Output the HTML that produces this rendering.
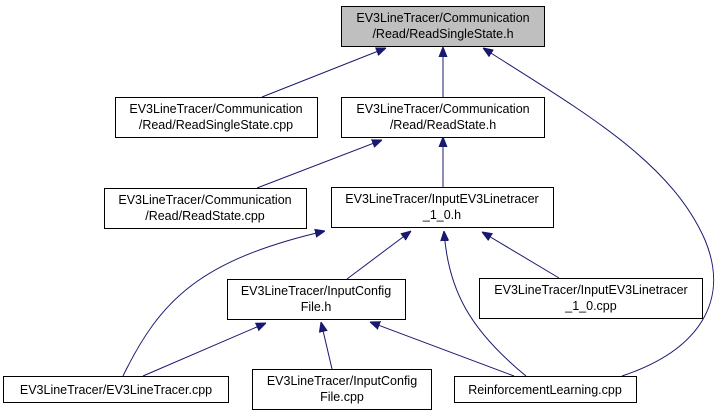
<!DOCTYPE html>
<html><head><meta charset="utf-8"><style>
html,body{margin:0;padding:0;background:#fff;}
svg{display:block;}
text{font-family:"Liberation Sans",Arial,sans-serif;font-size:12.5px;fill:#000;text-anchor:middle;}
rect{stroke:#000;stroke-width:1;}
path.e{fill:none;stroke:#191970;stroke-width:1;}
</style></head><body>
<svg width="725" height="416" viewBox="0 0 725 416" xmlns="http://www.w3.org/2000/svg">
<defs><marker id="a" viewBox="0 0 10 10" refX="10" refY="5" markerWidth="10" markerHeight="10" markerUnits="userSpaceOnUse" orient="auto"><path d="M0,1 L10,5 L0,9 z" fill="#191970" stroke="#191970"/></marker></defs>

<path class="e" d="M262,97 L386,48" marker-end="url(#a)"/>
<path class="e" d="M443,97 L443,47" marker-end="url(#a)"/>
<path class="e" d="M622,376 C700,350 730,300 705,240 C670,160 580,110 483,48" marker-end="url(#a)"/>
<path class="e" d="M257,188 L382,140" marker-end="url(#a)"/>
<path class="e" d="M443,188 L443,137" marker-end="url(#a)"/>
<path class="e" d="M123,376 C160,300 200,260 325,231" marker-end="url(#a)"/>
<path class="e" d="M347,279 L411,231" marker-end="url(#a)"/>
<path class="e" d="M526,376 C470,330 448,290 444,231" marker-end="url(#a)"/>
<path class="e" d="M559,278 L482,232" marker-end="url(#a)"/>
<path class="e" d="M143,376 L266,323" marker-end="url(#a)"/>
<path class="e" d="M332,369 L321,322" marker-end="url(#a)"/>
<path class="e" d="M514,376 L370,322" marker-end="url(#a)"/>

<rect x="341.5" y="6.5" width="203" height="40" fill="#bfbfbf"/>
<text x="443" y="22">EV3LineTracer/Communication</text><text x="443" y="38">/Read/ReadSingleState.h</text>

<rect x="115.5" y="97.5" width="202" height="40" fill="#fff"/>
<text x="216" y="113">EV3LineTracer/Communication</text><text x="216" y="129">/Read/ReadSingleState.cpp</text>

<rect x="341.5" y="97.5" width="203" height="40" fill="#fff"/>
<text x="443" y="113">EV3LineTracer/Communication</text><text x="443" y="129">/Read/ReadState.h</text>

<rect x="104.5" y="188.5" width="202" height="40" fill="#fff"/>
<text x="205" y="204">EV3LineTracer/Communication</text><text x="205" y="220">/Read/ReadState.cpp</text>

<rect x="331.5" y="187.5" width="222" height="40" fill="#fff"/>
<text x="442" y="203">EV3LineTracer/InputEV3Linetracer</text><text x="442" y="219">_1_0.h</text>

<rect x="227.5" y="279.5" width="178" height="40" fill="#fff"/>
<text x="316" y="295">EV3LineTracer/InputConfig</text><text x="316" y="311">File.h</text>

<rect x="479.5" y="278.5" width="223" height="40" fill="#fff"/>
<text x="591" y="294">EV3LineTracer/InputEV3Linetracer</text><text x="591" y="310">_1_0.cpp</text>

<rect x="3.5" y="376.5" width="225" height="26" fill="#fff"/>
<text x="116" y="394">EV3LineTracer/EV3LineTracer.cpp</text>

<rect x="252.5" y="369.5" width="179" height="40" fill="#fff"/>
<text x="342" y="385">EV3LineTracer/InputConfig</text><text x="342" y="401">File.cpp</text>

<rect x="454.5" y="376.5" width="182" height="26" fill="#fff"/>
<text x="545" y="394">ReinforcementLearning.cpp</text>
</svg>
</body></html>
